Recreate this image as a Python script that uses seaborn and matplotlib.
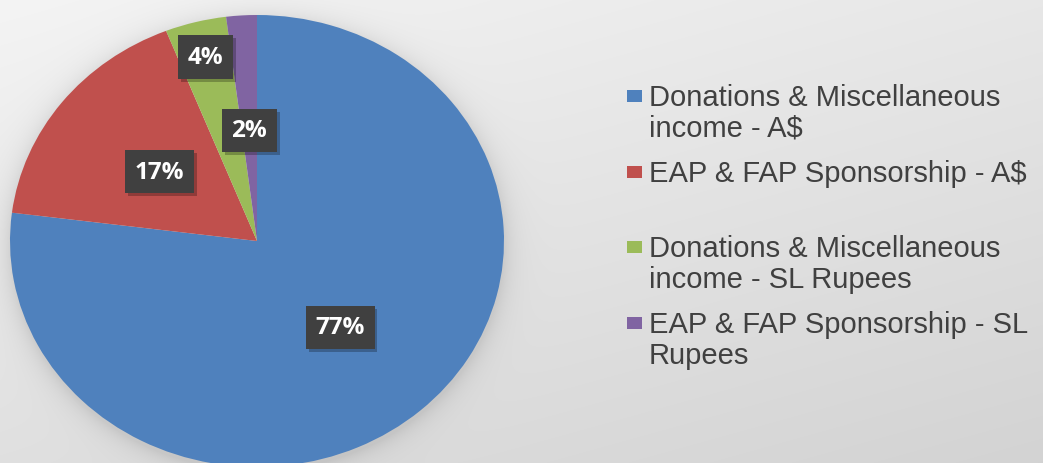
import numpy as np
import matplotlib
matplotlib.use("Agg")
import matplotlib.pyplot as plt
import matplotlib.patheffects as pe
import seaborn as sns

# Share of income by source (percent)
categories = [
    "Donations & Miscellaneous\nincome - A$",
    "EAP & FAP Sponsorship - A$",
    "Donations & Miscellaneous\nincome - SL Rupees",
    "EAP & FAP Sponsorship - SL\nRupees",
]
shares = [77, 17, 4, 2]
pct_labels = ["77%", "17%", "4%", "2%"]
label_dist = [0.51, 0.50, 0.84, 0.49]

colors = sns.color_palette(["#4F81BD", "#C0504D", "#9BBB59", "#8064A2"])
text_color = "#404040"

W, H = 1043, 464
fig = plt.figure(figsize=(W / 100, H / 100), dpi=100)

# background: soft grey gradient with a halo shadow around the pie
bg_ax = fig.add_axes([0, 0, 1, 1], zorder=0)
yy, xx = np.mgrid[0:H, 0:W].astype(float)
bg = 0.957 - 0.05 * xx / W - 0.08 * yy / H
cx, cy, rx, ry = 257, 242, 247, 226
d = np.sqrt(((xx - cx) / rx) ** 2 + ((yy - cy - 3) / ry) ** 2)
dist = np.clip((d - 1) * 236, 0, None)
bg = bg - 0.09 * np.exp(-dist / 11) * (d > 0.9)
bg_ax.imshow(np.dstack([bg, bg, bg]), extent=(0, W, H, 0), aspect="auto")
bg_ax.set_xlim(0, W)
bg_ax.set_ylim(H, 0)
bg_ax.axis("off")

# pie (stretched slightly horizontally like the original)
pie_ax = fig.add_axes([(cx - rx) / W, (H - cy - ry) / H, 2 * rx / W, 2 * ry / H], zorder=1)
wedges, _ = pie_ax.pie(shares, colors=colors, startangle=90, counterclock=False,
                       wedgeprops=dict(linewidth=0))
pie_ax.set_aspect("auto")
pie_ax.set_xlim(-1, 1)
pie_ax.set_ylim(-1, 1)
pie_ax.axis("off")

for w, lab, r in zip(wedges, pct_labels, label_dist):
    ang = np.deg2rad((w.theta1 + w.theta2) / 2)
    t = pie_ax.text(r * np.cos(ang), r * np.sin(ang), lab,
                    ha="center", va="center", color="white",
                    fontsize=17.5, fontweight="bold", family=["Open Sans", "DejaVu Sans"],
                    bbox=dict(boxstyle="square,pad=0.4", facecolor="#404040",
                              edgecolor="none", linewidth=0))
    t.get_bbox_patch().set_path_effects([
        pe.SimplePatchShadow(offset=(2, -2), shadow_rgbFace="black", alpha=0.25),
        pe.Normal()])

# legend drawn in pixel coordinates
first_base = 106
item_step = 75.7
line_step = 31
for i, (lab, c) in enumerate(zip(categories, colors)):
    base = first_base + i * item_step
    bg_ax.add_patch(plt.Rectangle((627, base - 15), 15, 12, facecolor=c, edgecolor="none"))
    for k, line in enumerate(lab.split("\n")):
        bg_ax.text(649, base + k * line_step, line, ha="left", va="baseline",
                   color=text_color, fontsize=21, family="Liberation Sans")

fig.savefig("out.png", dpi=100)
